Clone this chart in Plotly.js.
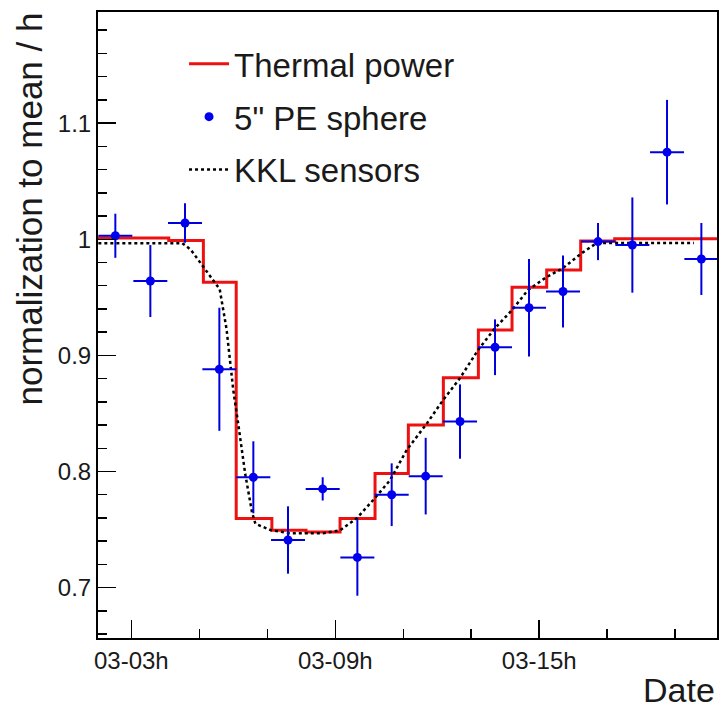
<!DOCTYPE html>
<html>
<head>
<meta charset="utf-8">
<script src="https://cdn.plot.ly/plotly-3.0.1.min.js"></script>
<style>html,body{margin:0;padding:0;background:#fff;}#chart{width:721px;height:708px;}</style>
</head>
<body>
<div id="chart"></div>
<script>
// Tick labels (hours of day 03)
const tickHours = [3, 9, 15];
const tickLabels = ["03-03h", "03-09h", "03-15h"];

// 5" PE sphere: bin centres (hours), values, errors
const sphereHours = [2.53, 3.56, 4.58, 5.59, 6.59, 7.61, 8.63, 9.65, 10.66, 11.66, 12.67, 13.70, 14.70, 15.70, 16.73, 17.74, 18.76, 19.77];
const sphereValues = [1.003, 0.964, 1.014, 0.888, 0.795, 0.741, 0.785, 0.726, 0.780, 0.796, 0.843, 0.907, 0.941, 0.955, 0.998, 0.995, 1.075, 0.983];
const sphereErrors = [0.019, 0.031, 0.017, 0.053, 0.031, 0.029, 0.010, 0.033, 0.027, 0.033, 0.032, 0.024, 0.042, 0.031, 0.016, 0.041, 0.045, 0.031];
const sphereHalfBin = 0.5;

// Thermal power histogram: bin edges (hours) and bin values
const thermalEdges = [2.0, 3.08, 4.1, 5.12, 6.086, 7.135, 8.14, 9.14, 10.17, 11.15, 12.18, 13.21, 14.2, 15.22, 16.22, 17.22, 18.24, 19.25, 20.3];
const thermalValues = [1.001, 1.001, 0.999, 0.963, 0.7595, 0.7494, 0.7479, 0.7595, 0.7983, 0.840, 0.8807, 0.9218, 0.9586, 0.9735, 0.9985, 1.0005, 1.0005, 1.0005];

// KKL sensors
const kklHours = [2.03, 4.5, 4.75, 5.1, 5.4, 5.6, 5.8, 6.0, 6.15, 6.35, 6.55, 6.65, 7.1, 7.65, 8.65, 9.14, 9.63, 10.11, 10.61, 11.1, 11.7, 12.17, 12.67, 13.2, 13.7, 14.2, 14.67, 15.22, 15.69, 16.25, 16.69, 19.55];
const kklValues = [0.9966, 0.9966, 0.991, 0.977, 0.966, 0.957, 0.923, 0.870, 0.840, 0.798, 0.765, 0.755, 0.7495, 0.7468, 0.7468, 0.7494, 0.7597, 0.7752, 0.7924, 0.8184, 0.8416, 0.8614, 0.8804, 0.9046, 0.9235, 0.939, 0.9563, 0.9675, 0.975, 0.988, 0.9968, 0.9968];

const FONT = "Liberation Sans, Arial, Helvetica, sans-serif";
const TXT = "#1a1a1a";

const thermalY = thermalValues.concat([thermalValues[thermalValues.length - 1]]);

const traces = [
  {
    x: thermalEdges, y: thermalY, type: "scatter", mode: "lines",
    line: {shape: "hv", color: "#ee1111", width: 3},
    name: "Thermal power", legendrank: 1, legendgroup: "a"
  },
  {
    x: kklHours, y: kklValues, type: "scatter", mode: "lines",
    line: {color: "#000000", width: 2.5, dash: "dot"},
    name: "KKL sensors", legendrank: 3, legendgroup: "c"
  },
  {
    x: sphereHours, y: sphereValues, type: "scatter", mode: "markers",
    marker: {color: "#0000ee", size: 9, symbol: "circle"},
    error_y: {type: "data", array: sphereErrors, color: "#0000dd", thickness: 2, width: 0},
    error_x: {type: "constant", value: sphereHalfBin, color: "#0000dd", thickness: 2, width: 0},
    name: "5\" PE sphere", legendrank: 2, legendgroup: "b"
  }
];

const layout = {
  width: 721, height: 708,
  margin: {l: 98, r: 4, t: 12, b: 70},
  paper_bgcolor: "#ffffff", plot_bgcolor: "#ffffff",
  font: {family: FONT, color: TXT, size: 24},
  showlegend: true,
  legend: {
    x: 0.139, y: 0.962, xanchor: "left", yanchor: "top",
    bgcolor: "rgba(0,0,0,0)", borderwidth: 0,
    font: {family: FONT, size: 33, color: TXT},
    traceorder: "grouped", tracegroupgap: 7, itemwidth: 40
  },
  xaxis: {
    range: [2.02, 20.23],
    tickmode: "array", tickvals: tickHours, ticktext: tickLabels,
    ticks: "inside", ticklen: 18, tickwidth: 1.5, tickcolor: "#000",
    minor: {tickmode: "linear", tick0: 3, dtick: 2, ticks: "inside", ticklen: 9, tickwidth: 1.5, tickcolor: "#000"},
    showline: true, linecolor: "#000", linewidth: 2, mirror: true,
    showgrid: false, zeroline: false,
    tickfont: {family: FONT, size: 24, color: TXT}
  },
  yaxis: {
    range: [0.6566, 1.1957],
    tickmode: "linear", tick0: 0.7, dtick: 0.1,
    ticks: "inside", ticklen: 18, tickwidth: 1.5, tickcolor: "#000",
    minor: {tickmode: "linear", tick0: 0.7, dtick: 0.02, ticks: "inside", ticklen: 9, tickwidth: 1.5, tickcolor: "#000"},
    showline: true, linecolor: "#000", linewidth: 2, mirror: true,
    showgrid: false, zeroline: false,
    tickfont: {family: FONT, size: 24, color: TXT}
  },
  annotations: [
    {
      text: "normalization to mean / h", textangle: -90,
      xref: "paper", yref: "paper", x: -0.11, y: 1.003,
      xanchor: "center", yanchor: "top", showarrow: false,
      font: {family: FONT, size: 35, color: TXT}
    },
    {
      text: "Date",
      xref: "paper", yref: "paper", x: 1.0, y: -0.083,
      xanchor: "right", yanchor: "middle", showarrow: false,
      font: {family: FONT, size: 34, color: TXT}
    }
  ]
};

Plotly.newPlot("chart", traces, layout, {displayModeBar: false, staticPlot: true});
</script>
</body>
</html>
